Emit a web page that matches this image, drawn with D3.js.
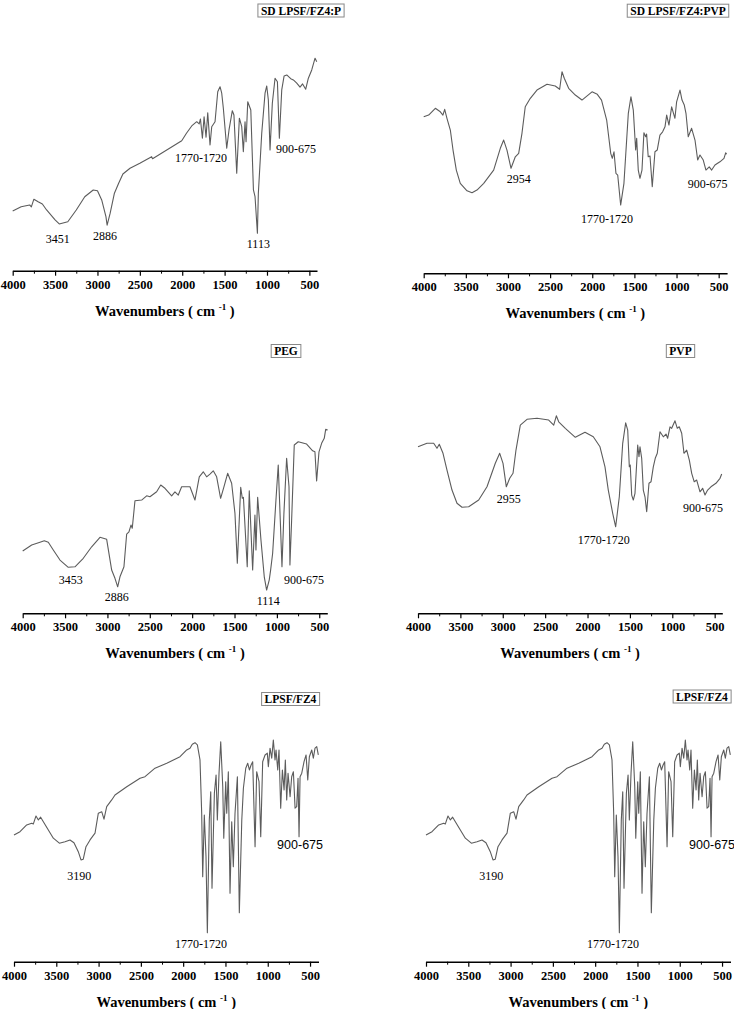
<!DOCTYPE html>
<html>
<head>
<meta charset="utf-8">
<script src="https://cdn.jsdelivr.net/npm/d3@7"></script>
<style>
  body { margin: 0; background: #fff; }
  svg { display: block; }
</style>
</head>
<body>
<div id="chart"></div>
<script>
// FTIR spectra, [wavenumber cm-1, transmittance a.u.]
const sdPeg = [
  [4000,23.9],[3900,25.6],[3800,26.3],[3780,25.5],[3750,28.6],[3700,27.6],[3650,26.7],[3600,24.3],
  [3500,20.3],[3451,18.7],[3350,19.6],[3250,24.3],[3150,29.6],[3050,32.3],[3000,32],[2950,28.3],
  [2900,21.6],[2886,18.2],[2850,23],[2800,31],[2750,35],[2700,38.7],[2616,41],[2500,43],[2361,45.6],
  [2350,44.8],[2006,52],[1950,55],[1888,57.9],[1829,59.6],[1800,58.7],[1785,60.7],[1762,53],[1742,61.6],
  [1719,53.4],[1699,63.2],[1672,50.3],[1652,57.6],[1613,59.6],[1581,71.6],[1554,73.6],[1534,71],
  [1515,65],[1475,49],[1448,56.3],[1409,64],[1390,62.3],[1357,39],[1326,61],[1298,57.6],[1279,47.6],
  [1259,59.6],[1247,51.6],[1227,67.6],[1191,64.3],[1160,32.3],[1141,29.6],[1113,15],[1102,31],
  [1062,55],[1023,71],[1003,73.9],[984,68.3],[964,48.3],[937,67],[905,77],[877,75.6],[854,53],
  [826,72.3],[798,77.9],[767,78.3],[720,76.8],[689,76.3],[649,75],[610,73.4],[580,74.7],[543,72.6],
  [512,77],[472,80.3],[433,85],[413,83.6]
];

const sdPvp = [
  [4000,62.6],[3941,63.3],[3862,66],[3803,64.6],[3772,63.3],[3751,65.6],[3724,62],[3684,57.3],
  [3652,49.3],[3613,41.3],[3566,36],[3486,33],[3427,32.2],[3368,33.3],[3288,36],[3170,41.3],
  [3091,50],[3051,53.3],[3012,49.3],[2964,42],[2913,46.6],[2873,48],[2834,56],[2795,66.6],[2735,70],
  [2656,73.3],[2537,75.6],[2439,74.9],[2387,73.6],[2359,80.6],[2332,78],[2280,74],[2201,71.3],
  [2122,69.3],[2003,72.6],[1940,71.6],[1890,69.3],[1829,61.3],[1781,48],[1762,46],[1742,48.6],
  [1719,40],[1698,39.3],[1663,27.3],[1624,36],[1572,64],[1541,70.6],[1513,65.3],[1485,49.3],
  [1473,54],[1454,41.3],[1434,38],[1410,41.3],[1387,56.2],[1366,54.6],[1355,55.7],[1336,46.6],
  [1315,46.9],[1288,34.6],[1256,48.6],[1229,49.3],[1197,55.3],[1165,56.6],[1137,58.6],[1117,63.3],
  [1090,59.3],[1058,66.6],[1019,62],[999,68.6],[959,73.3],[935,69.3],[908,67.3],[888,64],[861,54.6],
  [821,58],[781,53.3],[749,45.3],[722,47.3],[683,45.3],[651,41.3],[612,42.6],[583,41.3],[544,43.3],
  [485,44.6],[437,46],[417,48.2],[405,47.7]
];

const peg = [
  [4000,24.9],[3894,27.3],[3796,28.4],[3745,29],[3698,28.4],[3639,25.3],[3560,21.3],[3462,18.4],
  [3383,18.6],[3285,22],[3186,26.6],[3088,30.4],[3009,29.6],[2950,17.3],[2911,14],[2879,10.6],
  [2852,14.6],[2805,18.6],[2773,31.7],[2746,32.6],[2722,35.3],[2707,34],[2675,45],[2596,45.3],
  [2537,47],[2498,46.6],[2419,48.6],[2371,51.3],[2321,50],[2242,47],[2203,48.6],[2164,47.3],
  [2124,50.6],[2026,50.6],[1967,45.3],[1916,54.6],[1869,56.6],[1829,54.6],[1790,55.7],[1751,57],
  [1711,54.6],[1664,46],[1625,50.6],[1581,56],[1534,52],[1495,40],[1467,20],[1427,50.4],[1408,46],
  [1395,46.4],[1350,18.6],[1326,49],[1286,17.3],[1259,39.3],[1247,25.3],[1227,46.4],[1188,29.3],
  [1149,14.6],[1121,9.3],[1090,13.4],[1074,17.3],[1050,24],[1011,45.3],[984,59.3],[960,37.3],
  [940,18.6],[917,40],[885,62],[857,50.6],[846,19.3],[826,37.3],[795,67.3],[748,68.6],[649,67.7],
  [578,65],[551,64.6],[531,52.9],[503,64.6],[472,68],[441,70],[424,73.6],[401,73.3]
];

const pvp = [
  [4000,66.6],[3894,68],[3815,68],[3776,66],[3749,67.6],[3705,64],[3658,57.3],[3599,49.3],[3540,44],
  [3481,42.4],[3402,42.6],[3284,45.3],[3186,50.6],[3088,60],[3036,64],[2997,60],[2958,50.6],
  [2918,54],[2879,56],[2844,65.3],[2793,75.3],[2714,77.6],[2596,78],[2458,77.3],[2399,75.3],
  [2368,79],[2340,76.6],[2262,74],[2144,70.4],[2030,72.4],[1932,70.6],[1853,66.6],[1794,58.6],
  [1755,49.3],[1703,40],[1668,34.6],[1625,46.6],[1585,68],[1550,76.2],[1526,73.3],[1507,58.6],
  [1496,59.3],[1479,47.3],[1460,45.3],[1440,48],[1408,67.3],[1393,62.6],[1381,66.6],[1361,62],
  [1342,49.3],[1322,46.6],[1302,40.6],[1275,52],[1251,52.6],[1224,58.6],[1201,62],[1177,64],
  [1145,72.6],[1106,70.6],[1074,71.7],[1055,70],[1027,74.6],[1007,74],[968,77],[941,74],[918,74.6],
  [889,72],[862,64],[830,65.3],[799,61.3],[771,56],[741,52.6],[712,53.3],[673,48.6],[642,50],
  [614,47.3],[583,49.3],[544,50.6],[485,52],[437,54],[417,55.7]
];

const lpsf = [
  [4000,50.7],[3929,52],[3850,54.7],[3791,55.4],[3771,55.1],[3740,58.3],[3712,56.7],[3685,57.8],
  [3653,56],[3594,52.7],[3535,49.4],[3464,47.4],[3397,48],[3338,48.7],[3291,47.6],[3240,44],
  [3208,40.7],[3181,41],[3149,46],[3101,48.7],[3042,51.4],[3003,59.4],[2963,60],[2936,57],[2904,62],
  [2845,64.7],[2806,66.7],[2667,70],[2510,73.4],[2451,74],[2333,77.4],[2194,79.4],[2037,82],
  [1958,84.7],[1919,85.4],[1892,87],[1860,87.6],[1832,86.7],[1801,80.7],[1781,59.4],[1769,34],
  [1750,58.7],[1730,42],[1714,11.6],[1691,56.7],[1674,68],[1659,29.4],[1631,67.4],[1611,74.7],
  [1596,56.7],[1576,75.4],[1556,88],[1532,70],[1520,49.4],[1497,72],[1485,59.4],[1466,76],
  [1446,27.4],[1426,56],[1407,38],[1387,59.4],[1359,74],[1336,19.6],[1307,56.7],[1288,69.4],
  [1260,77.4],[1237,79.4],[1217,76.7],[1197,78.7],[1178,80],[1150,46],[1131,76],[1103,72],
  [1083,50],[1060,80],[1032,82.7],[1005,83.4],[993,78],[973,85.4],[953,81.4],[934,88.7],[914,80.7],
  [902,84.7],[882,76.7],[867,84.7],[847,61.4],[827,76.7],[807,68.7],[792,80.7],[776,64.7],
  [760,75.4],[736,66],[717,74],[697,76],[677,61.4],[658,62],[642,73.4],[630,50],[618,74],[598,75.4],
  [571,80],[547,82.7],[527,72.7],[508,82],[480,84.7],[461,81.4],[441,85.4],[421,86],[402,82.7]
];

const majorTicks = [4000, 3500, 3000, 2500, 2000, 1500, 1000, 500];
const minorTicks = [3750, 3250, 2750, 2250, 1750, 1250, 750];

// peak annotations: text, wavenumber, value
const notesSdPeg = [["3451",3469,11.1],["2886",2911,12.3],["1770-1720",1778,43.5],["1113",1102,9.1],["900-675",658,47]];
const notesSdPvp = [["2954",2873,36.1],["1770-1720",1825,20.2],["900-675",631,34.2]];
const notesPeg = [["3453",3434,11.7],["2886",2891,5],["1114",1102,3.3],["900-675",680,11.7]];
const notesPvp = [["2955",2930,44],["1770-1720",1809,27.6],["900-675",638,40.5]];
const notesLpsf = [["3190",3228,32.7],["1770-1720",1789,5.4]];
const notesLpsfSans = [["900-675",618,45]];

const W = 734, H = 1009;
const svg = d3.select("#chart").append("svg").attr("width", W).attr("height", H);

// layout of the six panels (pixels)
const panels = [
  { name: "SD LPSF/FZ4:P",   data: sdPeg, notes: notesSdPeg, sans: [], x0: 12.7, x1: 317,   end: 410, axisY: 270.7, box: [301, 10.5] },
  { name: "SD LPSF/FZ4:PVP", data: sdPvp, notes: notesSdPvp, sans: [], x0: 423.7, x1: 727.1, end: 400, axisY: 273.3, box: [678, 10.7] },
  { name: "PEG",             data: peg,   notes: notesPeg,   sans: [], x0: 22.7, x1: 327.3,  end: 405, axisY: 613.3, box: [286, 351] },
  { name: "PVP",             data: pvp,   notes: notesPvp,   sans: [], x0: 418,  x1: 722.3,  end: 410, axisY: 613.3, box: [680.5, 351] },
  { name: "LPSF/FZ4",        data: lpsf,  notes: notesLpsf,  sans: notesLpsfSans, x0: 14,  x1: 318.5, end: 400, axisY: 961.7, box: [290.5, 699] },
  { name: "LPSF/FZ4",        data: lpsf,  notes: notesLpsf,  sans: notesLpsfSans, x0: 426, x1: 730.5, end: 400, axisY: 961.7, box: [702, 696.5] }
];

const serif = "'Liberation Serif', 'Times New Roman', serif";

panels.forEach(p => {
  const x = d3.scaleLinear().domain([4000, p.end]).range([p.x0, p.x1]);
  const y = d3.scaleLinear().domain([0, 100]).range([p.axisY, p.axisY - 250]);
  const g = svg.append("g");

  // espectro
  g.append("path")
    .datum(p.data)
    .attr("fill", "none")
    .attr("stroke", "#5c5c5c")
    .attr("stroke-width", 1.1)
    .attr("stroke-linejoin", "round")
    .attr("d", d3.line().x(d => x(d[0])).y(d => y(d[1])));

  // eje inferior con ticks mayores y menores
  const axis = g.append("g").attr("transform", `translate(0,${p.axisY})`)
    .call(d3.axisBottom(x).tickValues(majorTicks).tickSize(5).tickSizeOuter(0).tickFormat(d3.format("d")));
  axis.select(".domain").attr("stroke", "#000").attr("stroke-width", 1.4);
  axis.selectAll(".tick line").attr("stroke", "#000").attr("stroke-width", 1.2);
  axis.selectAll("text")
    .attr("y", 9)
    .style("font-family", serif)
    .style("font-weight", "bold")
    .style("font-size", "12.5px")
    .style("fill", "#000");

  g.append("g").attr("transform", `translate(0,${p.axisY})`)
    .call(d3.axisBottom(x).tickValues(minorTicks).tickSize(3).tickSizeOuter(0).tickFormat(""))
    .call(a => a.select(".domain").remove())
    .selectAll(".tick line").attr("stroke", "#000").attr("stroke-width", 1);

  // título del eje
  const t = g.append("text")
    .attr("x", (p.x0 + p.x1) / 2)
    .attr("y", p.axisY + 45)
    .attr("text-anchor", "middle")
    .style("font-family", serif)
    .style("font-weight", "bold")
    .style("font-size", "14.5px")
    .style("fill", "#000");
  t.append("tspan").text("Wavenumbers ( cm ");
  t.append("tspan").attr("dy", -6).style("font-size", "9px").text("-1");
  t.append("tspan").attr("dy", 6).text(" )");

  // etiquetas de picos
  g.selectAll(".note")
    .data(p.notes).enter().append("text")
    .attr("x", d => x(d[1]))
    .attr("y", d => y(d[2]))
    .attr("text-anchor", "middle")
    .style("font-family", serif)
    .style("font-size", "12px")
    .style("fill", "#000")
    .text(d => d[0]);

  g.selectAll(".noteSans")
    .data(p.sans).enter().append("text")
    .attr("x", d => x(d[1]))
    .attr("y", d => y(d[2]))
    .attr("text-anchor", "middle")
    .style("font-family", "'Liberation Sans', Arial, sans-serif")
    .style("font-size", "12.5px")
    .style("fill", "#000")
    .text(d => d[0]);

  // caja con el nombre de la muestra
  const bx = g.append("g");
  const lbl = bx.append("text")
    .attr("x", p.box[0])
    .attr("y", p.box[1] + 4)
    .attr("text-anchor", "middle")
    .style("font-family", serif)
    .style("font-weight", "bold")
    .style("font-size", "11.5px")
    .style("fill", "#000")
    .text(p.name);
  const bb = lbl.node().getBBox();
  bx.insert("rect", "text")
    .attr("x", bb.x - 3)
    .attr("y", p.box[1] - 6.5)
    .attr("width", bb.width + 6)
    .attr("height", 13)
    .attr("fill", "#fff")
    .attr("stroke", "#888")
    .attr("stroke-width", 1);
});
</script>
</body>
</html>
